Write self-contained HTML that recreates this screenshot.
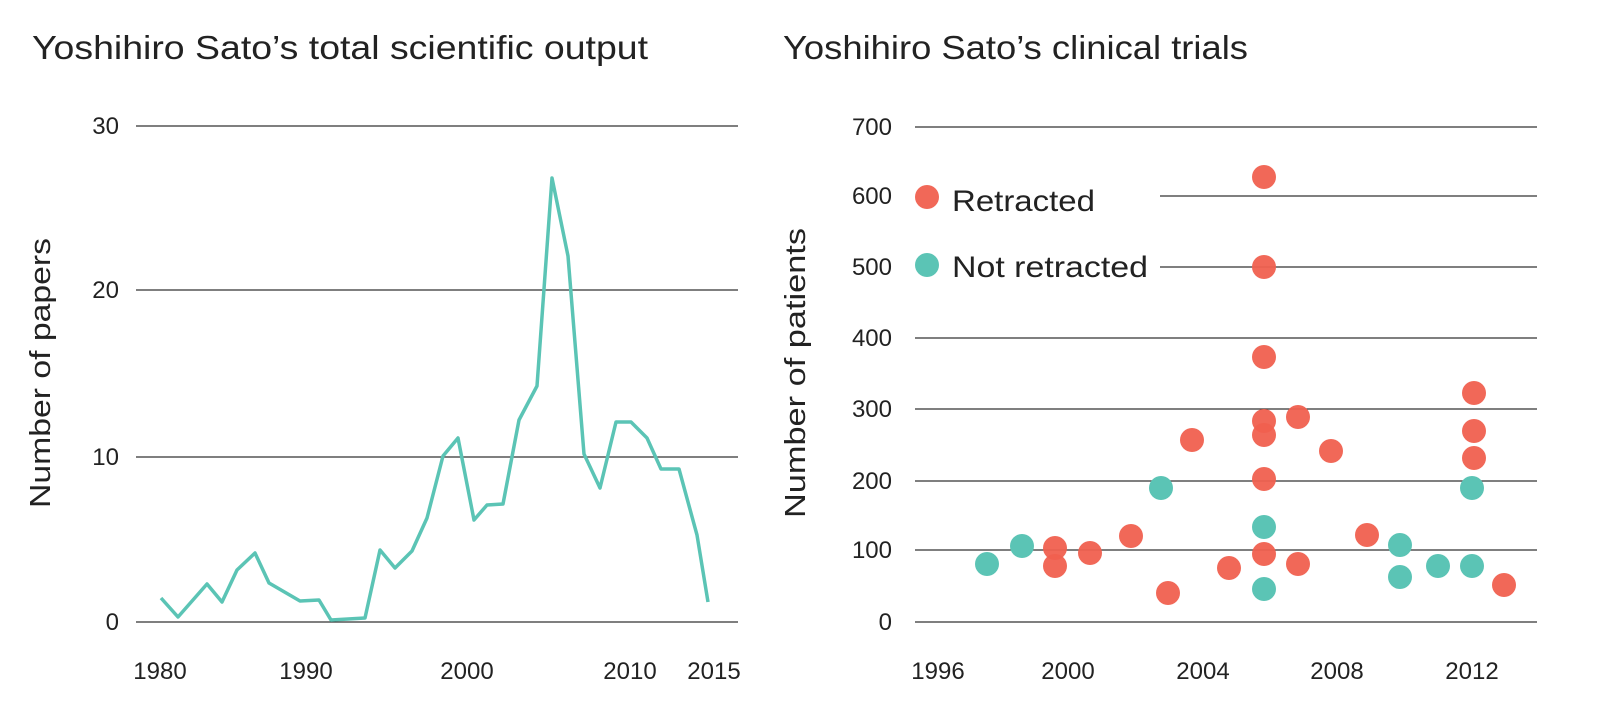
<!DOCTYPE html>
<html><head><meta charset="utf-8"><style>
html,body{margin:0;padding:0;background:#fff;}
svg{display:block;font-family:"Liberation Sans",sans-serif;}
</style></head><body>
<svg width="1600" height="723" viewBox="0 0 1600 723" xmlns="http://www.w3.org/2000/svg">
<text x="32" y="59" font-size="33" fill="#222" textLength="616" lengthAdjust="spacingAndGlyphs">Yoshihiro Sato’s total scientific output</text>
<text x="783" y="59" font-size="33" fill="#222" textLength="465" lengthAdjust="spacingAndGlyphs">Yoshihiro Sato’s clinical trials</text>
<g stroke="#333" stroke-width="1.2">
<line x1="136" y1="126" x2="738" y2="126"/>
<line x1="136" y1="290" x2="738" y2="290"/>
<line x1="136" y1="457" x2="738" y2="457"/>
<line x1="136" y1="622" x2="738" y2="622"/>
<line x1="915" y1="127" x2="1537" y2="127"/>
<line x1="1160" y1="196" x2="1537" y2="196"/>
<line x1="1160" y1="267" x2="1537" y2="267"/>
<line x1="915" y1="338" x2="1537" y2="338"/>
<line x1="915" y1="409" x2="1537" y2="409"/>
<line x1="915" y1="481" x2="1537" y2="481"/>
<line x1="915" y1="550" x2="1537" y2="550"/>
<line x1="915" y1="622" x2="1537" y2="622"/>
</g>
<g font-size="24" fill="#222" text-anchor="end">
<text x="119" y="134">30</text><text x="119" y="298">20</text><text x="119" y="465">10</text><text x="119" y="630">0</text>
<text x="892" y="135">700</text><text x="892" y="204">600</text><text x="892" y="275">500</text><text x="892" y="346">400</text><text x="892" y="417">300</text><text x="892" y="489">200</text><text x="892" y="558">100</text><text x="892" y="630">0</text>
</g>
<g font-size="24" fill="#222" text-anchor="middle">
<text x="160" y="679">1980</text><text x="306" y="679">1990</text><text x="467" y="679">2000</text><text x="630" y="679">2010</text><text x="714" y="679">2015</text>
<text x="938" y="679">1996</text><text x="1068" y="679">2000</text><text x="1203" y="679">2004</text><text x="1337" y="679">2008</text><text x="1472" y="679">2012</text>
</g>
<text transform="translate(50,373) rotate(-90)" font-size="29" fill="#222" text-anchor="middle" textLength="270" lengthAdjust="spacingAndGlyphs">Number of papers</text>
<text transform="translate(805,373) rotate(-90)" font-size="29" fill="#222" text-anchor="middle" textLength="290" lengthAdjust="spacingAndGlyphs">Number of patients</text>
<polyline fill="none" stroke="#5bc4b5" stroke-width="3.5" stroke-linejoin="round" points="161,598 178,617 207,584 222,602 237,570 255,553 269,583 300,601 319,600 331,620 365,618 380,550 395,568 412,551 427,518 443,456 458,438 474,520 487,505 503,504 519,420 537,386 552,178 568,256 584,454 600,488 616,422 631,422 647,438 661,469 679,469 697,535 708,602"/>
<g fill="#5bc4b5">
<circle cx="987" cy="564" r="12"/><circle cx="1022" cy="546" r="12"/><circle cx="1161" cy="488" r="12"/><circle cx="1264" cy="527" r="12"/><circle cx="1264" cy="589" r="12"/><circle cx="1400" cy="545" r="12"/><circle cx="1400" cy="577" r="12"/><circle cx="1438" cy="566" r="12"/><circle cx="1472" cy="488" r="12"/><circle cx="1472" cy="566" r="12"/>
<circle cx="927" cy="265" r="12"/>
</g>
<g fill="#f0604f" fill-opacity="0.95">
<circle cx="1055" cy="548" r="12"/><circle cx="1055" cy="566" r="12"/><circle cx="1090" cy="553" r="12"/><circle cx="1131" cy="536" r="12"/><circle cx="1168" cy="593" r="12"/><circle cx="1192" cy="440" r="12"/><circle cx="1229" cy="568" r="12"/><circle cx="1264" cy="177" r="12"/><circle cx="1264" cy="267" r="12"/><circle cx="1264" cy="357" r="12"/><circle cx="1264" cy="421" r="12"/><circle cx="1264" cy="435" r="12"/><circle cx="1264" cy="479" r="12"/><circle cx="1264" cy="554" r="12"/><circle cx="1298" cy="417" r="12"/><circle cx="1298" cy="564" r="12"/><circle cx="1331" cy="451" r="12"/><circle cx="1367" cy="535" r="12"/><circle cx="1474" cy="393" r="12"/><circle cx="1474" cy="431" r="12"/><circle cx="1474" cy="458" r="12"/><circle cx="1504" cy="585" r="12"/>
<circle cx="927" cy="197" r="12"/>
</g>
<text x="952" y="211" font-size="30" fill="#222" textLength="143" lengthAdjust="spacingAndGlyphs">Retracted</text>
<text x="952" y="277" font-size="30" fill="#222" textLength="196" lengthAdjust="spacingAndGlyphs">Not retracted</text>
</svg>
</body></html>
